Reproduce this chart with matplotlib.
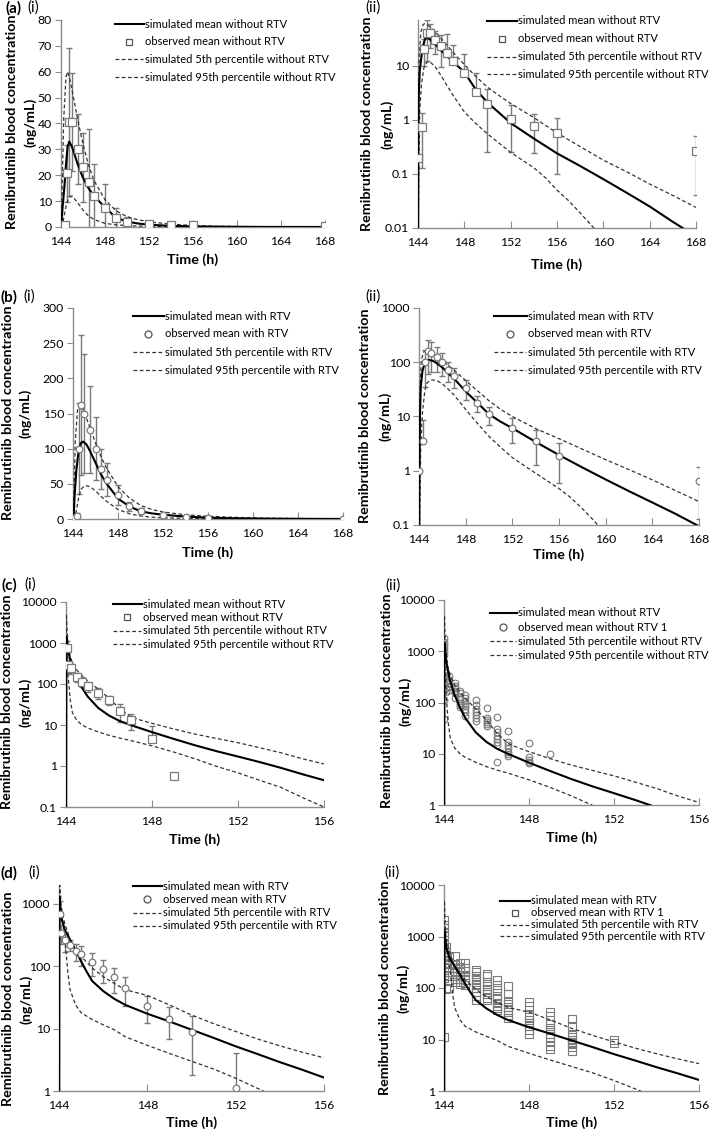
import numpy as np
import matplotlib.pyplot as plt
from matplotlib.lines import Line2D
from matplotlib.ticker import NullLocator

plt.rcParams['font.family'] = ['Lato', 'DejaVu Sans']

W, H = 709, 1130
FS_LEG = 8.0
FS_TICK = 8.8
FS_LAB = 10.3
AXC = '#8c8c8c'
GREY = '#7a7a7a'

# ---------------- (a) without RTV ----------------
a_obs_t = [144, 144.33, 144.5, 144.75, 145, 145.5, 146, 146.5, 147, 148, 149, 150, 152, 154, 156, 168]
a_obs_mean = [0.2, 0.73, 20.7, 40.5, 40.5, 30, 23, 17.5, 12, 7.3, 3.3, 2.0, 1.05, 0.77, 0.58, 0.27]
a_obs_sd = [0, 0.6, 11, 28.5, 19, 13.5, 13.5, 20.5, 12.5, 9.3, 3.9, 1.75, 0.8, 0.53, 0.48, 0.23]

a_mean_t = [144, 144.03, 144.07, 144.15, 144.3, 144.45, 144.6, 144.75, 145, 145.5, 146, 146.5, 147, 148, 149,
            150, 151, 152, 154, 156, 158, 160, 162, 164, 166, 168]
a_mean_v = [0.001, 0.5, 3, 8, 15, 24, 31, 33, 31, 24.5, 19, 15, 12, 7.6, 3.6,
            2.1, 1.35, 0.87, 0.45, 0.24, 0.14, 0.08, 0.045, 0.025, 0.013, 0.007]
a_p5_t = [144, 144.05, 144.15, 144.3, 144.5, 144.75, 145, 145.5, 146, 146.5, 147, 148, 149, 150, 151, 152,
          153, 154, 155, 156, 157, 158, 159, 159.5]
a_p5_v = [0.001, 0.05, 1.5, 4.5, 9, 11.5, 12, 9.5, 6.5, 4.3, 2.9, 1.4, 0.85, 0.55, 0.37, 0.25,
          0.18, 0.13, 0.085, 0.05, 0.032, 0.019, 0.011, 0.0085]
a_p95_t = [144, 144.03, 144.1, 144.25, 144.45, 144.6, 144.8, 145, 145.5, 146, 146.5, 147, 148, 149, 150, 151,
           152, 154, 156, 158, 160, 162, 164, 166, 168]
a_p95_v = [0.001, 1, 15, 42, 58, 60, 57, 53, 42, 32, 24, 18, 10.5, 6.3, 4, 2.8,
           2.0, 1.1, 0.57, 0.32, 0.18, 0.11, 0.065, 0.04, 0.024]

# ---------------- (b) with RTV ----------------
b_obs_t = [144, 144.33, 144.5, 144.75, 145, 145.5, 146, 146.5, 147, 148, 149, 150, 152, 154, 156, 168]
b_obs_mean = [1.0, 3.6, 100, 162, 150, 127, 100, 71, 56, 34, 18, 11, 6.2, 3.5, 1.9, 0.65]
b_obs_sd = [0, 5, 65, 100, 85, 62, 45, 28, 23, 14, 6, 4, 3, 2.2, 1.3, 0.52]

b_mean_t = [144, 144.03, 144.08, 144.15, 144.3, 144.5, 144.7, 144.9, 145.2, 145.5, 146, 146.5, 147, 148, 149,
            150, 151, 152, 154, 156, 158, 160, 162, 164, 166, 168]
b_mean_v = [0.001, 0.5, 10, 35, 70, 97, 108, 110, 106, 97, 80, 63, 50, 29, 18,
            11, 8, 6.1, 3.4, 1.95, 1.15, 0.69, 0.42, 0.26, 0.16, 0.095]
b_p5_t = [144, 144.05, 144.15, 144.3, 144.5, 144.7, 145, 145.3, 145.6, 146, 146.5, 147, 148, 149, 150, 151,
          152, 154, 156, 157, 158, 159, 159.5]
b_p5_v = [0.001, 0.1, 3, 12, 30, 42, 47, 47, 45, 40, 32, 25, 13.5, 7.5, 4.3, 2.7,
          1.75, 0.9, 0.47, 0.32, 0.2, 0.12, 0.09]
b_p95_t = [144, 144.03, 144.08, 144.2, 144.4, 144.6, 144.8, 145, 145.5, 146, 146.5, 147, 148, 149, 150, 151,
           152, 154, 156, 158, 160, 162, 164, 166, 168]
b_p95_v = [0.001, 1, 30, 110, 155, 163, 160, 152, 130, 108, 88, 72, 46, 30, 19.5, 13.5,
           10, 6, 3.9, 2.5, 1.6, 1.05, 0.68, 0.43, 0.27]

# ---------------- (c) without RTV, second study ----------------
c_obs_t = [144.03, 144.1, 144.25, 144.5, 144.75, 145, 145.5, 146, 146.5, 147, 148, 149]
c_obs_mean = [770, 290, 240, 150, 115, 90, 60, 40, 22, 13, 4.6, 0.58]
c_obs_sd = [350, 100, 60, 40, 30, 25, 18, 10, 10, 5.5, 4.7, 0]

c_mean_t = [144, 144.02, 144.1, 144.25, 144.5, 144.75, 145, 145.5, 146, 146.5, 147, 148, 149, 150, 151,
            152, 153, 154, 155, 156]
c_mean_v = [0.001, 1400, 650, 300, 140, 80, 50, 26, 17, 12.5, 10, 6.7, 4.6, 3.2, 2.3,
            1.7, 1.25, 0.9, 0.63, 0.45]
c_p5_t = [144, 144.02, 144.05, 144.1, 144.2, 144.3, 144.5, 144.75, 145, 145.5, 146, 146.5, 147, 148, 149,
          150, 151, 152, 153, 154, 155, 156]
c_p5_v = [0.001, 800, 400, 150, 40, 20, 13, 10, 8.5, 6.8, 5.6, 4.8, 4.2, 3.1, 2.2,
          1.5, 0.98, 0.68, 0.45, 0.3, 0.17, 0.1]
c_p95_t = [144, 144.02, 144.05, 144.1, 144.2, 144.3, 144.5, 144.75, 145, 145.5, 146, 146.5, 147, 147.5, 148,
           149, 150, 151, 152, 153, 154, 155, 156]
c_p95_v = [0.001, 5000, 2000, 900, 450, 330, 220, 160, 120, 75, 45, 25, 16, 13, 11,
           8, 6, 4.7, 3.7, 2.8, 2.1, 1.5, 1.12]

c_ind_t = [144.0, 144.1, 144.25, 144.5, 144.75, 145, 145.5, 146, 146.5, 147, 148, 149]
c_ind_v = [
    [1780, 1540, 1320, 1140, 980, 850, 430, 110, 48],
    [370, 300, 250, 190, 160],
    [330, 280, 240, 210, 200, 175],
    [240, 210, 190, 170, 150, 120],
    [170, 150, 130, 115, 100, 90, 80],
    [140, 120, 105, 95, 85, 75, 65, 55],
    [110, 90, 75, 65, 58, 50, 44],
    [78, 50, 45, 42, 38, 35],
    [52, 30, 26, 22, 19, 17, 15, 7],
    [28, 17, 15, 13, 11, 10, 9],
    [16, 8.7, 7.5, 7, 6.5],
    [10],
]

# ---------------- (d) with RTV, second study ----------------
d_obs_t = [144.03, 144.1, 144.25, 144.5, 144.75, 145, 145.5, 146, 146.5, 147, 148, 149, 150, 152]
d_obs_mean = [680, 340, 260, 220, 175, 155, 115, 90, 66, 45, 23, 14.5, 8.8, 1.1]
d_obs_sd = [420, 110, 90, 45, 55, 55, 45, 37, 29, 22, 10.5, 7.7, 7, 3]

d_mean_t = [144, 144.02, 144.1, 144.25, 144.5, 144.75, 145, 145.25, 145.5, 146, 146.5, 147, 148, 149, 150,
            151, 152, 153, 154, 155, 156]
d_mean_v = [0.001, 1300, 620, 390, 265, 180, 120, 82, 58, 40, 30, 24, 17.3, 13, 9.6,
            7.1, 5.2, 3.9, 2.9, 2.2, 1.64]
d_p5_t = [144, 144.02, 144.1, 144.2, 144.3, 144.4, 144.5, 144.75, 145, 145.5, 146, 146.5, 147, 148, 149,
          150, 151, 152, 153, 153.5]
d_p5_v = [0.001, 900, 600, 450, 200, 80, 42, 24, 18, 14, 11.5, 9.6, 7.4, 5.4, 4.0,
          3.0, 2.25, 1.6, 1.1, 0.9]
d_p95_t = [144, 144.02, 144.05, 144.1, 144.25, 144.5, 144.75, 145, 145.5, 146, 146.5, 147, 148, 149, 150,
           151, 152, 153, 154, 155, 156]
d_p95_v = [0.001, 5000, 1800, 900, 500, 266, 190, 144, 94, 68, 53, 42, 34, 24, 16.5,
           12, 9, 6.8, 5.3, 4.2, 3.4]

d_ind_t = [144.0, 144.1, 144.25, 144.5, 144.75, 145, 145.5, 146, 146.5, 147, 148, 149, 150, 152]
d_ind_v = [
    [2090, 1700, 1450, 1250, 1050, 730, 600, 470, 260, 178, 153, 11],
    [630, 500, 420, 350, 300, 250, 97],
    [400, 300, 250, 200, 170, 140, 100],
    [420, 280, 240, 200, 170, 150, 130],
    [300, 260, 230, 200, 175, 150, 130, 120],
    [300, 250, 210, 180, 160, 140, 125, 115],
    [222, 200, 170, 150, 130, 115, 100, 85, 70, 58],
    [190, 170, 130, 110, 95, 85, 75, 65, 58],
    [140, 115, 90, 70, 60, 52, 45, 40, 37],
    [110, 75, 55, 48, 42, 38, 34, 30, 26],
    [54, 45, 30, 27, 24, 21, 18, 15, 13],
    [34, 28, 20, 17, 15, 13, 11, 9, 7.5, 6.6],
    [25, 18, 12, 11, 10, 9, 8, 7, 6],
    [10, 8.6],
]

# ---------------- axes / labels ----------------
x_long = [144, 148, 152, 156, 160, 164, 168]
x_short = [144, 148, 152, 156]
y_a_lin = [0, 10, 20, 30, 40, 50, 60, 70, 80]
y_b_lin = [0, 50, 100, 150, 200, 250, 300]
y_a_log = [0.01, 0.1, 1, 10]
y_a_log_lab = ['0.01', '0.1', '1', '10']
y_b_log = [0.1, 1, 10, 100, 1000]
y_b_log_lab = ['0.1', '1', '10', '100', '1000']
y_c1_log = [0.1, 1, 10, 100, 1000, 10000]
y_c1_log_lab = ['0.1', '1', '10', '100', '1000', '10000']
y_c2_log = [1, 10, 100, 1000, 10000]
y_c2_log_lab = ['1', '10', '100', '1000', '10000']
y_d1_log = [1, 10, 100, 1000]
y_d1_log_lab = ['1', '10', '100', '1000']

lab_wo = ['simulated mean without RTV', 'observed mean without RTV',
          'simulated 5th percentile without RTV', 'simulated 95th percentile without RTV']
lab_w = ['simulated mean with RTV', 'observed mean with RTV',
         'simulated 5th percentile with RTV', 'simulated 95th percentile with RTV']
lab_wo1 = ['simulated mean without RTV', 'observed mean without RTV 1',
           'simulated 5th percentile without RTV', 'simulated 95th percentile without RTV']
lab_w1 = ['simulated mean with RTV', 'observed mean with RTV 1',
          'simulated 5th percentile with RTV', 'simulated 95th percentile with RTV']

fig = plt.figure(figsize=(W / 100, H / 100), dpi=100)


def fx(x):
    return x / W


def fy(y):
    return 1 - y / H


def legend(labels, marker, hx, tx, y0, sp):
    # hand-placed legend rows (pixel positions)
    for i, lab in enumerate(labels):
        y = fy(y0 + i * sp)
        if i == 1:
            fig.add_artist(Line2D([fx((hx + tx) / 2 - 1)], [y], ls='none', marker=marker,
                                  ms=5.0, mfc='none', mec='#555555', mew=0.9,
                                  transform=fig.transFigure))
        elif i == 0:
            fig.add_artist(Line2D([fx(hx), fx(tx - 1)], [y, y], color='black', lw=1.5,
                                  transform=fig.transFigure))
        else:
            fig.add_artist(Line2D([fx(hx), fx(tx - 2)], [y, y], color='#333333', lw=0.9,
                                  dashes=(3, 2), transform=fig.transFigure))
        fig.text(fx(tx), y, lab, ha='left', va='center', fontsize=FS_LEG)


def panel(box, log, xt, yt, ylab, ylim, curves, marker, labels, leg, ylab_pos, xlab_y,
          obs=None, ind=None):
    l, t, r, b = box
    ax = fig.add_axes([fx(l), fy(b), (r - l) / W, (b - t) / H])
    if log:
        ax.set_yscale('log')
    ax.set_xlim(xt[0], xt[-1])
    ax.set_ylim(ylim)
    ax.set_xticks(xt)
    ax.set_xticklabels([str(v) for v in xt])
    ax.set_yticks(yt)
    ax.set_yticklabels(ylab)
    ax.xaxis.set_minor_locator(NullLocator())
    ax.yaxis.set_minor_locator(NullLocator())
    for s in ['top', 'right']:
        ax.spines[s].set_visible(False)
    for s in ['left', 'bottom']:
        ax.spines[s].set_color(AXC)
        ax.spines[s].set_linewidth(1.0)
    ax.tick_params(axis='x', direction='in', length=5, color=AXC, labelsize=FS_TICK, pad=6.5)
    ax.tick_params(axis='y', direction='out', length=4, color=AXC, labelsize=FS_TICK, pad=2.5)
    ax.patch.set_visible(False)

    (mt, mv), (p5t, p5v), (p95t, p95v) = curves
    ax.plot(mt, mv, color='black', lw=1.5, zorder=4)
    ax.plot(p5t, p5v, color='#333333', lw=0.9, dashes=(3, 2), zorder=3)
    ax.plot(p95t, p95v, color='#333333', lw=0.9, dashes=(3, 2), zorder=3)

    ms = 5.2 if marker == 's' else 4.8
    if obs is not None:
        ot, om, osd = (np.array(v, dtype=float) for v in obs)
        if log:
            # lower bars that would cross zero are not drawn on a log axis
            lo = np.where(om - osd > 0, osd, 0)
        else:
            lo = osd
        ax.errorbar(ot, om, yerr=[lo, osd], fmt='none', ecolor=GREY, elinewidth=1.0,
                    capsize=2.5, capthick=1.0, zorder=2)
        ax.plot(ot, om, ls='none', marker=marker, ms=ms,
                mfc='white', mec=GREY, mew=0.9, zorder=5)
    if ind is not None:
        it, iv = ind
        xs = [t0 for t0, vals in zip(it, iv) for _ in vals]
        ys = [v for vals in iv for v in vals]
        ax.plot(xs, ys, ls='none', marker=marker, ms=ms,
                mfc='none', mec=GREY, mew=0.8, zorder=2)

    legend(labels, marker, *leg)

    x1, x2, cy = ylab_pos
    fig.text(fx(x1), fy(cy), 'Remibrutinib blood concentration', rotation=90,
             ha='center', va='center', fontsize=FS_LAB, fontweight='bold')
    fig.text(fx(x2), fy(cy), '(ng/mL)', rotation=90,
             ha='center', va='center', fontsize=FS_LAB, fontweight='bold')
    fig.text(fx((l + r) / 2), fy(xlab_y), 'Time (h)', ha='center', va='center',
             fontsize=FS_LAB, fontweight='bold')
    return ax


# (a)
panel((61, 20, 325, 227), False, x_long, y_a_lin, [str(v) for v in y_a_lin], (0, 80),
      [(a_mean_t, a_mean_v), (a_p5_t, a_p5_v), (a_p95_t, a_p95_v)], 's', lab_wo,
      (115, 145, 24, 17.7), (12, 30, 122), 260, obs=(a_obs_t, a_obs_mean, a_obs_sd))
panel((418, 20, 696, 228), True, x_long, y_a_log, y_a_log_lab, (0.01, 70),
      [(a_mean_t, a_mean_v), (a_p5_t, a_p5_v), (a_p95_t, a_p95_v)], 's', lab_wo,
      (487, 518, 21, 17.8), (367, 387, 124), 265, obs=(a_obs_t, a_obs_mean, a_obs_sd))
# (b)
panel((73, 308, 343, 519), False, x_long, y_b_lin, [str(v) for v in y_b_lin], (0, 300),
      [(b_mean_t, b_mean_v), (b_p5_t, b_p5_v), (b_p95_t, b_p95_v)], 'o', lab_w,
      (133, 165, 316, 18), (8, 25, 413), 553, obs=(b_obs_t, b_obs_mean, b_obs_sd))
panel((419, 308, 699, 525), True, x_long, y_b_log, y_b_log_lab, (0.1, 1000),
      [(b_mean_t, b_mean_v), (b_p5_t, b_p5_v), (b_p95_t, b_p95_v)], 'o', lab_w,
      (494, 528, 316, 18), (365, 385, 416), 555, obs=(b_obs_t, b_obs_mean, b_obs_sd))
# (c)
panel((66, 602, 324, 807), True, x_short, y_c1_log, y_c1_log_lab, (0.1, 10000),
      [(c_mean_t, c_mean_v), (c_p5_t, c_p5_v), (c_p95_t, c_p95_v)], 's', lab_wo,
      (113, 143, 604, 13.4), (7, 25, 702), 840, obs=(c_obs_t, c_obs_mean, c_obs_sd))
panel((444, 600, 699, 805), True, x_short, y_c2_log, y_c2_log_lab, (1, 10000),
      [(c_mean_t, c_mean_v), (c_p5_t, c_p5_v), (c_p95_t, c_p95_v)], 'o', lab_wo1,
      (490, 518, 613, 14.1), (387, 405, 701), 838, ind=(c_ind_t, c_ind_v))
# (d)
panel((59, 885, 324, 1091), True, x_short, y_d1_log, y_d1_log_lab, (1, 2000),
      [(d_mean_t, d_mean_v), (d_p5_t, d_p5_v), (d_p95_t, d_p95_v)], 'o', lab_w,
      (133, 163, 886, 13.3), (8, 26, 999), 1123, obs=(d_obs_t, d_obs_mean, d_obs_sd))
panel((444, 885, 699, 1091), True, x_short, y_c2_log, y_c2_log_lab, (1, 10000),
      [(d_mean_t, d_mean_v), (d_p5_t, d_p5_v), (d_p95_t, d_p95_v)], 's', lab_w1,
      (500, 531, 901, 11.8), (385, 403, 988), 1123, ind=(d_ind_t, d_ind_v))

# panel tags
tags = [('(a)', 14, 8, True), ('(i)', 33, 8, False), ('(ii)', 373, 8, False),
        ('(b)', 9, 297, True), ('(i)', 29, 297, False), ('(ii)', 373, 297, False),
        ('(c)', 9, 585, True), ('(i)', 30, 585, False), ('(ii)', 393, 586, False),
        ('(d)', 9, 873, True), ('(i)', 34, 873, False), ('(ii)', 392, 873, False)]
for s, x, y, bold in tags:
    fig.text(fx(x), fy(y), s, ha='center', va='center', fontsize=11,
             fontweight='bold' if bold else 'normal')

fig.savefig('out.png', dpi=100)
